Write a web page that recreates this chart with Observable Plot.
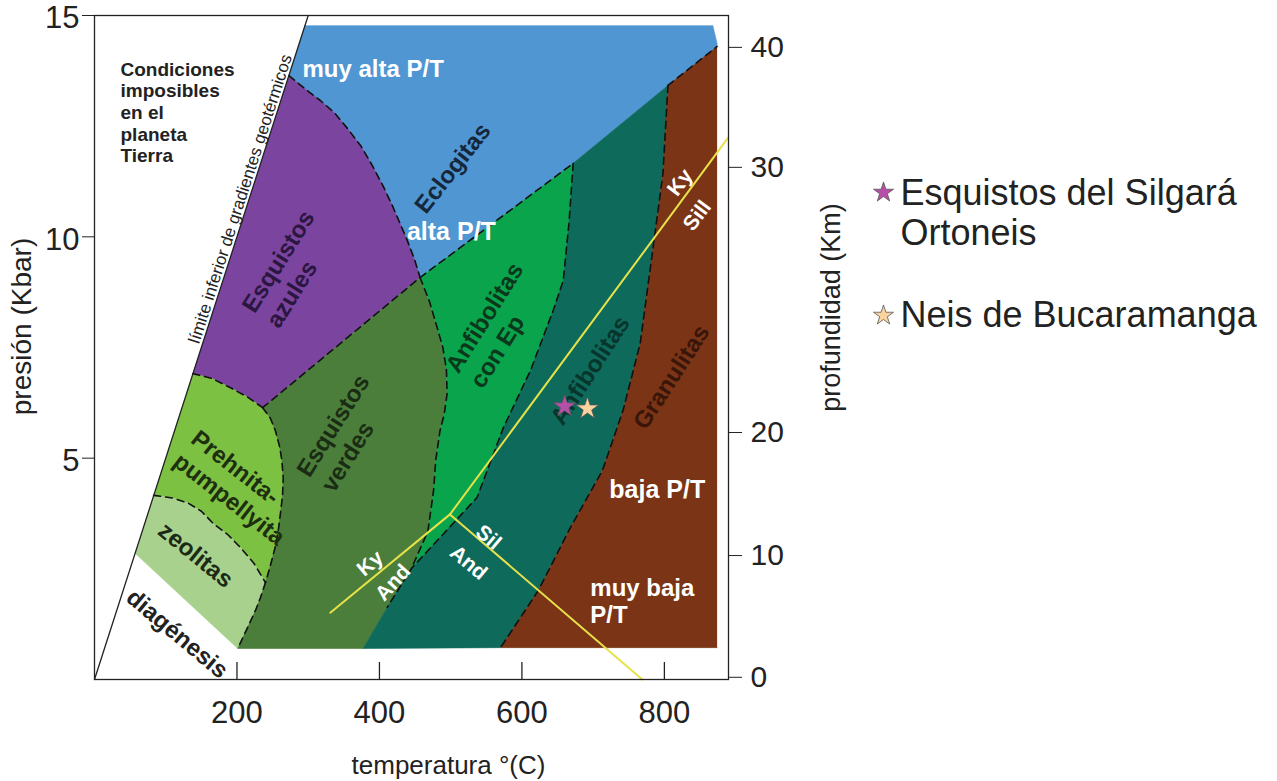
<!DOCTYPE html>
<html><head><meta charset="utf-8">
<script src="https://cdn.jsdelivr.net/npm/d3@7"></script>
<script src="https://cdn.jsdelivr.net/npm/@observablehq/plot@0.6"></script>
<style>body{margin:0;background:#fff;}</style>
</head><body><div id="chart"></div>
<script>
const FONT = "'Liberation Sans', Arial, Helvetica, sans-serif";

// ---- axes ----
const xTicks = [200, 400, 600, 800];
const yTicks = [5, 10, 15];
const depthLabels = [0, 10, 20, 30, 40];
const depthAtPressure = [0.05, 2.80, 5.58, 11.57, 14.28];

// ---- reference line: lower limit of geothermal gradients (T °C, P kbar) ----
const geothermLimit = [[0, 0], [300, 15]];

// ---- facies boundaries (T °C, P kbar) ----
const blueTop = [[295, 14.77], [868, 14.77], [874, 14.37]];
const bluePurple = [[273, 13.64], [295, 13.35], [317, 13.08], [337, 12.80], [355, 12.45], [374, 12.05], [390, 11.61], [405, 11.15], [418, 10.71], [429, 10.30], [439, 9.92], [449, 9.50], [457, 9.08]];
const blueGreen = [[457, 9.08], [672, 11.66]];
const blueTeal = [[672, 11.66], [805, 13.42]];
const blueBrown = [[805, 13.42], [874, 14.3]];
const purpleVerdes = [[236, 6.14], [457, 9.08]];
const purplePrehnite = [[138, 6.91], [165, 6.80], [191, 6.59], [215, 6.38], [236, 6.14]];
const prehVerdes = [[236, 6.14], [247, 5.90], [254, 5.62], [260, 5.25], [263, 4.95], [265, 4.55], [264, 4.17], [261, 3.75], [258, 3.37], [253, 2.95], [247, 2.58], [240, 2.19]];
const zeoVerdes = [[240, 2.19], [233, 1.85], [226, 1.56], [213, 1.11], [201, 0.70]];
const prehZeo = [[83, 4.16], [110, 4.10], [132, 3.98], [150, 3.80], [167, 3.52], [188, 3.26], [205, 2.98], [224, 2.62], [240, 2.19]];
const zeoDiagenesis = [[201, 0.70], [57, 2.85]];
const verdesAnfEp = [[457, 9.08], [470, 8.55], [481, 7.95], [489, 7.50], [494, 7.00], [495, 6.46], [491, 6.00], [485, 5.62], [479, 4.95], [476, 4.27], [468, 3.35], [445, 2.51]];
const tealUpper = [[672, 11.66], [666, 10.3], [658, 9.01], [644, 8.34], [612, 6.98], [574, 5.69], [537, 4.11], [445, 2.51]];
const tealLower = [[445, 2.51], [411, 1.63], [377, 0.70]];
const tealBrown = [[805, 13.42], [798, 11.43], [783, 9.62], [766, 7.59], [742, 6.08], [713, 4.72], [668, 3.43], [623, 2.01], [570, 0.72]];
const brownCorner = [[874, 0.72]];

// ---- Al2SiO5 reactions ----
const kyAnd = [[331, 1.51], [499, 3.73]];
const kySill = [[499, 3.73], [889.5, 12.24]];
const andSill = [[499, 3.73], [769, 0]];

// ---- samples ----
const sampleNames = ["Esquistos del Silgará\nOrtoneis", "Neis de Bucaramanga"];
const sampleT = [660, 692];
const sampleP = [6.17, 6.12];
const sampleColors = ["#b74fa9", "#fbd39f"];

// ---- colours ----
const C = {blue: "#4f96d2", purple: "#7a449f", prehnite: "#7dc143", zeolite: "#a8d18e",
  verdes: "#4b7e3b", anfEp: "#0aa44d", teal: "#0e6a5b", brown: "#7b3516"};

// ---- labels ----
const darkCentered = [
  {text: "Eclogitas", T: 503, P: 11.55, r: -52, c: "#16273b"},
  {text: "Anfibolitas", T: 696, P: 6.98, r: -57, c: "#07352b"},
  {text: "Granulitas", T: 810, P: 6.83, r: -57, c: "#391609"},
  {text: "zeolitas", T: 142, P: 2.81, r: 39, c: "#1c2a15"},
  {text: "diagénesis", T: 116, P: 1.03, r: 40, c: "#222222"}
];
const darkBlocks = [
  {text: "Esquistos\nazules", T: 231, P: 8.19, r: -58, c: "#2a163f"},
  {text: "Esquistos\nverdes", T: 308, P: 4.48, r: -58, c: "#1a2c13"},
  {text: "Anfibolitas\ncon Ep", T: 517, P: 6.83, r: -58, c: "#0a381b"},
  {text: "Prehnita-\npumpellyita", T: 129, P: 5.28, r: 38, c: "#1d2f0f"}
];
const whiteBlocks = [
  {text: "muy alta P/T", T: 292, P: 13.80},
  {text: "muy baja\nP/T", T: 696, P: 1.77}
];
const whiteCentered = [
  {text: "alta P/T", T: 501, P: 10.10},
  {text: "baja P/T", T: 790, P: 4.27}
];
const phaseLabels = [
  {text: "Ky", T: 822, P: 11.23, r: -53},
  {text: "Sill", T: 846, P: 10.48, r: -53},
  {text: "Ky", T: 387, P: 2.62, r: -40},
  {text: "And", T: 419, P: 2.19, r: -48},
  {text: "Sil", T: 553, P: 3.21, r: 40},
  {text: "And", T: 525, P: 2.64, r: 40}
];

const rev = a => a.slice().reverse();
const fields = [
  {pts: [...blueTop, ...rev(blueBrown), ...rev(blueTeal), ...rev(blueGreen), ...rev(bluePurple)], c: C.blue},
  {pts: [...bluePurple, ...rev(purpleVerdes), ...rev(purplePrehnite)], c: C.purple},
  {pts: [...purplePrehnite, ...prehVerdes, ...rev(prehZeo)], c: C.prehnite},
  {pts: [...prehZeo, ...zeoVerdes, ...zeoDiagenesis], c: C.zeolite},
  {pts: [...purpleVerdes, ...verdesAnfEp, ...tealLower, ...rev(zeoVerdes), ...rev(prehVerdes)], c: C.verdes},
  {pts: [...blueGreen, ...tealUpper, ...rev(verdesAnfEp)], c: C.anfEp},
  {pts: [...blueTeal, ...tealBrown, ...rev(tealLower), ...rev(tealUpper)], c: C.teal},
  {pts: [...rev(blueBrown), ...tealBrown, ...brownCorner], c: C.brown}
];
const dashed = [bluePurple, blueGreen, blueBrown, purpleVerdes, purplePrehnite, prehVerdes, zeoVerdes,
  prehZeo, verdesAnfEp, [...tealUpper, tealLower[1]], tealBrown];

const X = d => d[0], Y = d => d[1];
const depthMap = new Map(depthAtPressure.map((p, i) => [p, String(depthLabels[i])]));
const samples = sampleNames.map((n, i) => ({n, T: sampleT[i], P: sampleP[i], c: sampleColors[i]}));

const marks = [];
for (const f of fields) marks.push(Plot.line(f.pts, {x: X, y: Y, fill: f.c, stroke: f.c, strokeWidth: 0.6}));
for (const d of dashed) marks.push(Plot.line(d, {x: X, y: Y, stroke: "#111", strokeWidth: 1.6, strokeDasharray: "7,5"}));
marks.push(Plot.line(geothermLimit, {x: X, y: Y, stroke: "#222", strokeWidth: 1.3}));
for (const l of [kyAnd, kySill, andSill]) marks.push(Plot.line(l, {x: X, y: Y, stroke: "#e6e24a", strokeWidth: 2}));

marks.push(
  Plot.text(["Condiciones\nimposibles\nen el\nplaneta\nTierra"], {x: [36.5], y: [12.82], textAnchor: "start", lineAnchor: "middle", lineHeight: 1.14, fontSize: 19, fontWeight: "bold", fill: "#222"}),
  Plot.text(["límite inferior de gradientes geotérmicos"], {x: [216], y: [10.80], rotate: -72.1, dx: -8, dy: -2.5, fontSize: 17, fill: "#222"}),
  Plot.text(darkCentered, {x: "T", y: "P", text: "text", rotate: "r", fill: "c", textAnchor: "middle", lineAnchor: "middle", fontSize: 24, fontWeight: "bold"}),
  Plot.text(darkBlocks, {x: "T", y: "P", text: "text", rotate: "r", fill: "c", textAnchor: "start", lineAnchor: "middle", lineHeight: 1.2, fontSize: 24, fontWeight: "bold"}),
  Plot.text(whiteBlocks, {x: "T", y: "P", text: "text", textAnchor: "start", lineAnchor: "middle", lineHeight: 1.1, fontSize: 24, fontWeight: "bold", fill: "#fff"}),
  Plot.text(whiteCentered, {x: "T", y: "P", text: "text", textAnchor: "middle", lineAnchor: "middle", fontSize: 25, fontWeight: "bold", fill: "#fff"}),
  Plot.text(phaseLabels, {x: "T", y: "P", text: "text", rotate: "r", fontSize: 21, fontWeight: "bold", fill: "#fff"}),
  Plot.dot(samples, {x: "T", y: "P", fill: "c", symbol: "star", r: 7, stroke: "#555", strokeWidth: 0.8}),
  // axes
  Plot.axisX(xTicks, {tickSize: 0, tickPadding: 21, fontSize: 31, label: null, color: "#222"}),
  Plot.tickX(xTicks, {x: d => d, insetTop: 647, stroke: "#222", strokeWidth: 1.3}),
  Plot.axisY(yTicks, {anchor: "left", tickSize: 12, tickFormat: () => "", label: null, color: "#222"}),
  Plot.axisY(yTicks, {anchor: "left", tickSize: 0, tickPadding: 15, dy: 3, fontSize: 31, label: null, color: "#222"}),
  Plot.axisY(depthAtPressure, {anchor: "right", tickSize: 13, tickPadding: 9, fontSize: 30, label: null, color: "#222", tickFormat: d => depthMap.get(d)}),
  Plot.frame({stroke: "#222", strokeWidth: 1.3}),
  Plot.text(["temperatura °(C)"], {frameAnchor: "bottom", textAnchor: "middle", lineAnchor: "middle", dx: 37, dy: 86, fontSize: 26, fill: "#222"}),
  Plot.text(["presión (Kbar)"], {frameAnchor: "left", textAnchor: "middle", lineAnchor: "middle", rotate: -90, dx: -72, dy: -21, fontSize: 28, fill: "#222"}),
  Plot.text(["profundidad (Km)"], {frameAnchor: "right", textAnchor: "middle", lineAnchor: "middle", rotate: -90, dx: 103, dy: -40, fontSize: 27, fill: "#222"}),
  // legend
  Plot.dot([samples[0]], {frameAnchor: "top-right", dx: 155, dy: 177, fill: "c", symbol: "star", r: 6.3, stroke: "#555", strokeWidth: 0.8}),
  Plot.dot([samples[1]], {frameAnchor: "top-right", dx: 155, dy: 300, fill: "c", symbol: "star", r: 6.3, stroke: "#555", strokeWidth: 0.8}),
  Plot.text([samples[0]], {frameAnchor: "top-right", dx: 172, dy: 197, text: "n", textAnchor: "start", lineAnchor: "middle", lineHeight: 1.1, fontSize: 36, fill: "#222"}),
  Plot.text([samples[1]], {frameAnchor: "top-right", dx: 172, dy: 300, text: "n", textAnchor: "start", lineAnchor: "middle", fontSize: 36, fill: "#222"})
);

const chart = Plot.plot({
  width: 1277, height: 781,
  marginLeft: 94, marginRight: 549, marginTop: 15, marginBottom: 102,
  x: {domain: [0, 890]},
  y: {domain: [0, 15]},
  color: {type: "identity"},
  style: {fontFamily: FONT, background: "#fff", overflow: "visible"},
  marks
});
document.getElementById("chart").append(chart);
</script>
</body></html>
